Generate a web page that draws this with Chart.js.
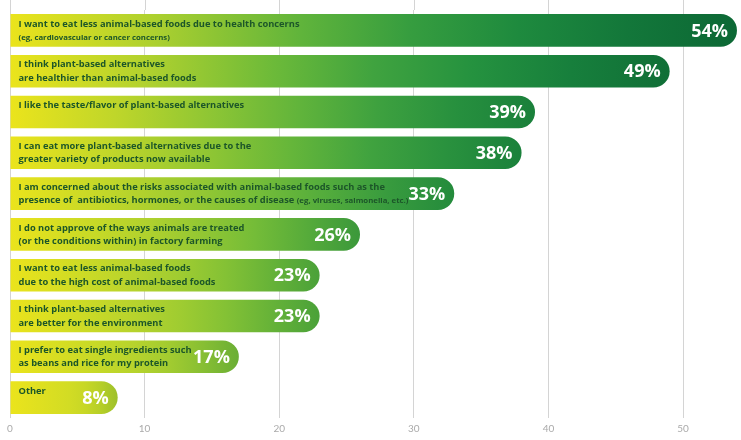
<!DOCTYPE html>
<html>
<head>
<meta charset="utf-8">
<script src="https://cdn.jsdelivr.net/npm/chart.js@4.4.1/dist/chart.umd.min.js"></script>
<style>
  html, body { margin: 0; padding: 0; background: #fff; }
  #wrap { position: relative; width: 741px; height: 440px; }
</style>
</head>
<body>
<div id="wrap"><canvas id="reasonsChart"></canvas></div>
<script>
// Reasons for eating more plant-based alternatives (% of respondents)
const categories = [
  ["I want to eat less animal-based foods due to health concerns", "(eg, cardiovascular or cancer concerns)"],
  ["I think plant-based alternatives", "are healthier than animal-based foods"],
  ["I like the taste/flavor of plant-based alternatives"],
  ["I can eat more plant-based alternatives due to the", "greater variety of products now available"],
  ["I am concerned about the risks associated with animal-based foods such as the", "presence of  antibiotics, hormones, or the causes of disease (eg, viruses, salmonella, etc.)"],
  ["I do not approve of the ways animals are treated", "(or the conditions within) in factory farming"],
  ["I want to eat less animal-based foods", "due to the high cost of animal-based foods"],
  ["I think plant-based alternatives", "are better for the environment"],
  ["I prefer to eat single ingredients such", "as beans and rice for my protein"],
  ["Other"],
];
const shares = [54, 49, 39, 38, 33, 26, 23, 23, 17, 8];
const xTicks = [0, 10, 20, 30, 40, 50];

// yellow -> green ramp along the value axis
const shadeStops = [
  [0, "#ebe41c"], [10, "#b2d22e"], [19, "#70bc39"], [27, "#40a33f"],
  [35, "#23913f"], [43, "#167f3c"], [54, "#0d6b37"],
];

function hexToRgb(h) {
  const n = parseInt(h.slice(1), 16);
  return [(n >> 16) & 255, (n >> 8) & 255, n & 255];
}
function mix(a, b, t) {
  return a.map((v, i) => Math.round(v + (b[i] - v) * t));
}
function shadeAt(v) {
  for (let i = 1; i < shadeStops.length; i++) {
    const [v1, c1] = shadeStops[i];
    const [v0, c0] = shadeStops[i - 1];
    if (v <= v1) return mix(hexToRgb(c0), hexToRgb(c1), (v - v0) / (v1 - v0));
  }
  return hexToRgb(shadeStops[shadeStops.length - 1][1]);
}

const deep = hexToRgb("#0a5a2e");
function barFill(c) {
  const chart = c.chart;
  if (!chart.chartArea || !chart.scales.x) return "#ebe41c";
  const xs = chart.scales.x;
  const base = xs.getPixelForValue(0);
  const end = xs.getPixelForValue(c.raw);
  const g = chart.ctx.createLinearGradient(base, 0, end, 0);
  [0, 0.2, 0.4, 0.55, 0.7, 0.85, 1].forEach(f => {
    let rgb = shadeAt(c.raw * f);
    // darker towards the rounded end of each bar
    const k = f < 0.55 ? 0 : (f - 0.55) / 0.45;
    rgb = mix(rgb, deep, 0.18 * k * k);
    g.addColorStop(f, `rgb(${rgb.join(",")})`);
  });
  return g;
}

// grid lines run up to the top edge of the canvas
const gridToTop = {
  id: "gridToTop",
  beforeDatasetsDraw(chart) {
    const { ctx, chartArea, scales } = chart;
    ctx.save();
    ctx.strokeStyle = "#d4d4d4";
    ctx.lineWidth = 1;
    scales.x.ticks.forEach(t => {
      const x = Math.round(scales.x.getPixelForValue(t.value)) + 0.5;
      ctx.beginPath();
      ctx.moveTo(x, 0);
      ctx.lineTo(x, chartArea.top);
      ctx.stroke();
    });
    ctx.restore();
  },
};

// statement text and percentage written inside each bar
const barText = {
  id: "barText",
  afterDatasetsDraw(chart) {
    const { ctx } = chart;
    const meta = chart.getDatasetMeta(0);
    ctx.save();
    meta.data.forEach((bar, i) => {
      const lines = chart.data.labels[i];
      ctx.textBaseline = "middle";
      ctx.textAlign = "left";
      ctx.fillStyle = "#1c5629";
      lines.forEach((line, j) => {
        const y = bar.y + (j === 0 ? -6.5 : 7);
        let x = bar.base + 8;
        const cut = line.indexOf("(eg");
        const main = cut > 0 ? line.slice(0, cut) : (cut === 0 ? "" : line);
        const note = cut >= 0 ? line.slice(cut) : "";
        if (main) {
          ctx.font = "bold 9.3px 'Open Sans'";
          ctx.fillText(main, x, y);
          x += ctx.measureText(main).width;
        }
        if (note) {
          ctx.font = "bold 7.8px 'Open Sans'";
          ctx.fillText(note, x, y);
        }
      });
      ctx.font = "bold 18px 'Open Sans'";
      ctx.textAlign = "right";
      ctx.fillStyle = "#ffffff";
      ctx.fillText(shares[i] + "%", bar.x - 9, bar.y + 1);
    });
    ctx.restore();
  },
};

const ctx = document.getElementById("reasonsChart").getContext("2d");
new Chart(ctx, {
  type: "bar",
  data: {
    labels: categories,
    datasets: [
      {
        data: shares,
        backgroundColor: barFill,
        borderWidth: 0,
        borderRadius: 17,
        borderSkipped: "start",
        categoryPercentage: 1,
        barPercentage: 0.8,
      },
    ],
  },
  options: {
    indexAxis: "y",
    responsive: true,
    maintainAspectRatio: false,
    animation: false,
    layout: { padding: { left: 10, right: 0, top: 10, bottom: 0 } },
    plugins: {
      legend: { display: false },
      tooltip: { enabled: false },
    },
    scales: {
      x: {
        min: 0,
        max: 54.3,
        afterBuildTicks(scale) {
          scale.ticks = xTicks.map(v => ({ value: v }));
        },
        grid: { color: "#d4d4d4", drawTicks: false },
        border: { display: false },
        ticks: {
          padding: 5,
          color: "#aaaaaa",
          font: { family: "Lato", size: 10 },
        },
      },
      y: { display: false },
    },
  },
  plugins: [gridToTop, barText],
});
</script>
</body>
</html>
